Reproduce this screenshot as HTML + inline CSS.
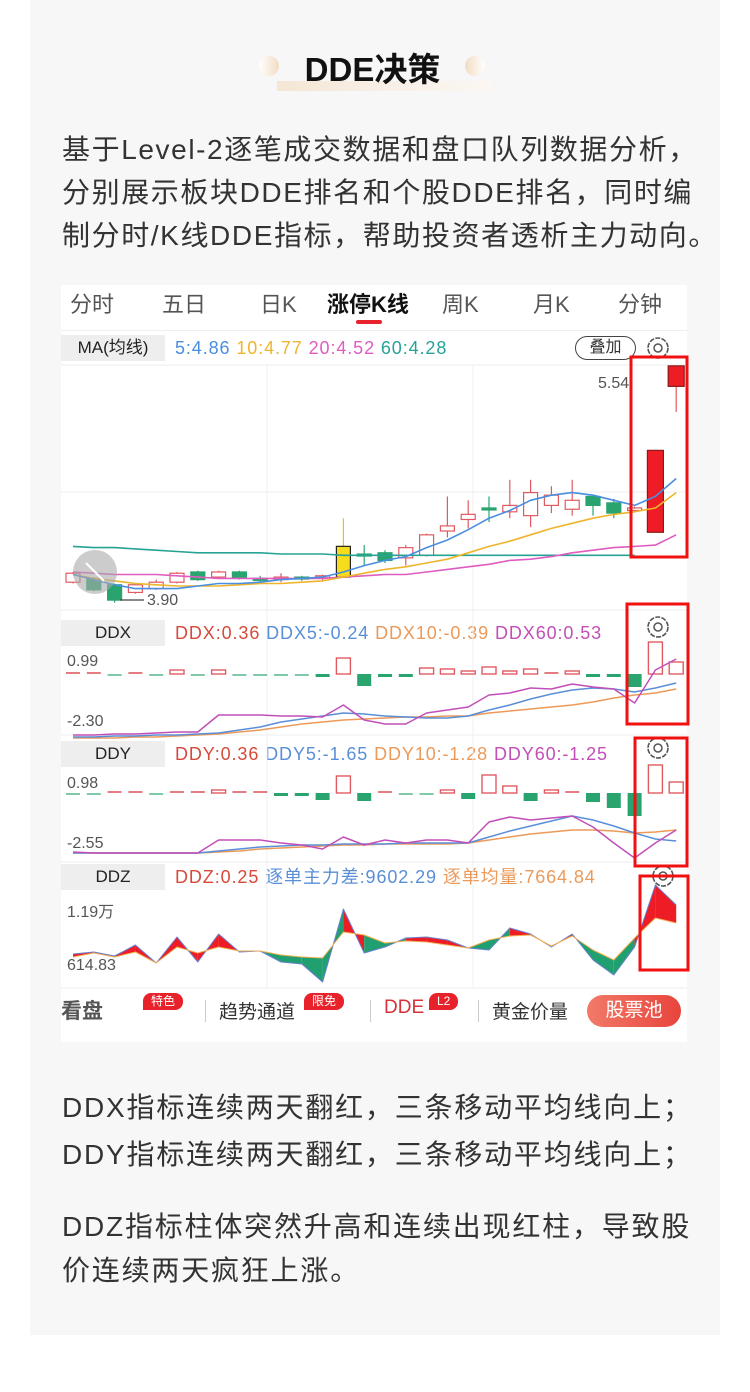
<!DOCTYPE html>
<html><head><meta charset="utf-8">
<style>
*{margin:0;padding:0;box-sizing:border-box}
body{width:750px;height:1392px;background:#fff;position:relative;overflow:hidden;font-family:"Liberation Sans","Noto Sans CJK SC",sans-serif;color:#333}
#panel{position:absolute;left:30px;top:0;width:690px;height:1335px;background:#f7f7f7}
.abs{position:absolute;white-space:nowrap}
.p{font-size:28px;line-height:43px;color:#333;left:62px;letter-spacing:1.6px}
.n{letter-spacing:1.8px}
#chartbg{position:absolute;left:61px;top:285px;width:626px;height:757px;background:#fff}
.tab{position:absolute;top:287px;font-size:22px;color:#555}
.lbl{position:absolute;left:61px;width:104px;height:26px;background:#eee;font-size:17px;line-height:26px;text-align:center;color:#222}
.vals{position:absolute;left:175px;font-size:18px;line-height:26px;letter-spacing:0.9px}
.badge{position:absolute;background:#e8222b;color:#fff;font-size:12px;border-radius:8px 8px 8px 0;padding:0 8px;line-height:17px}
.bb{position:absolute;top:997px;font-size:19px;color:#333}
</style></head><body>
<div id="panel"></div>

<div class="abs" style="left:259px;top:56px;width:20px;height:20px;border-radius:50%;background:linear-gradient(90deg,#fff,#f1dcc2)"></div>
<div class="abs" style="left:465px;top:56px;width:20px;height:20px;border-radius:50%;background:linear-gradient(90deg,#f1dcc2,#fff)"></div>
<div class="abs" style="left:277px;top:81px;width:215px;height:10px;background:linear-gradient(90deg,#f5e6d4,#f8efe6,#fbf7f2)"></div>
<div class="abs" style="left:0;width:745px;top:48px;text-align:center;font-size:33px;font-weight:bold;color:#111;line-height:44px">DDE决策</div>

<div class="abs p" style="top:128px">基于Level-2逐笔成交数据和盘口队列数据分析，</div>
<div class="abs p" style="top:171px">分别展示板块DDE排名和个股DDE排名，同时编</div>
<div class="abs p" style="top:214px">制分时/K线DDE指标，帮助投资者透析主力动向。</div>

<div id="chartbg"></div>
<div class="abs" style="left:61px;top:330px;width:626px;height:1px;background:#eee"></div>
<div class="tab" style="left:70px">分时</div>
<div class="tab" style="left:162px">五日</div>
<div class="tab" style="left:260px">日K</div>
<div class="tab" style="left:327px;color:#111;font-weight:bold">涨停K线</div>
<div class="abs" style="left:356px;top:320px;width:26px;height:4px;background:#e8222b;border-radius:2px"></div>
<div class="tab" style="left:442px">周K</div>
<div class="tab" style="left:533px">月K</div>
<div class="tab" style="left:618px">分钟</div>

<div class="lbl" style="top:335px">MA(均线)</div>
<div class="vals" style="top:335px"><span style="color:#4a8ee0">5:4.86</span> <span style="color:#eeb52c">10:4.77</span> <span style="color:#e05cc0">20:4.52</span> <span style="color:#27a395">60:4.28</span></div>
<div class="abs" style="left:575px;top:336px;width:61px;height:24px;border:1.5px solid #444;border-radius:12px;font-size:16px;line-height:21px;text-align:center;color:#333">叠加</div>

<div class="lbl" style="top:620px">DDX</div>
<div class="vals" style="top:620px"><span style="color:#d64a3a">DDX:0.36</span> <span style="color:#5a8fd8">DDX5:-0.24</span> <span style="color:#eb9a5a">DDX10:-0.39</span> <span style="color:#c24fb8">DDX60:0.53</span></div>
<div class="lbl" style="top:741px">DDY</div>
<div class="vals" style="top:741px"><span style="color:#d64a3a">DDY:0.36</span> <span style="color:#5a8fd8">DDY5:-1.65</span> <span style="color:#eb9a5a">DDY10:-1.28</span> <span style="color:#c24fb8">DDY60:-1.25</span></div>
<div class="lbl" style="top:864px">DDZ</div>
<div class="vals" style="top:864px"><span style="color:#d64a3a">DDZ:0.25</span> <span style="color:#5a8fd8">逐单主力差:9602.29</span> <span style="color:#eb9a5a">逐单均量:7664.84</span></div>

<svg id="chart" class="abs" style="left:0;top:0" width="750" height="1392"></svg>

<div class="abs" style="left:598px;top:375px;font-size:16px;color:#555">5.54</div>
<div class="abs" style="left:147px;top:592px;font-size:16px;color:#555">3.90</div>
<div class="abs" style="left:67px;top:653px;font-size:16px;color:#555">0.99</div>
<div class="abs" style="left:67px;top:713px;font-size:16px;color:#555">-2.30</div>
<div class="abs" style="left:67px;top:775px;font-size:16px;color:#555">0.98</div>
<div class="abs" style="left:67px;top:835px;font-size:16px;color:#555">-2.55</div>
<div class="abs" style="left:67px;top:898px;font-size:16px;color:#555">1.19万</div>
<div class="abs" style="left:67px;top:957px;font-size:16px;color:#555">614.83</div>

<div class="bb" style="left:61px;font-weight:bold;color:#555;font-size:21px;top:995px">看盘</div>
<div class="badge" style="left:143px;top:993px">特色</div>
<div class="abs" style="left:205px;top:1000px;width:1px;height:22px;background:#ccc"></div>
<div class="bb" style="left:219px">趋势通道</div>
<div class="badge" style="left:304px;top:993px">限免</div>
<div class="abs" style="left:370px;top:1000px;width:1px;height:22px;background:#ccc"></div>
<div class="bb" style="left:384px;color:#d9303a">DDE</div>
<div class="badge" style="left:429px;top:993px">L2</div>
<div class="abs" style="left:478px;top:1000px;width:1px;height:22px;background:#ccc"></div>
<div class="bb" style="left:492px">黄金价量</div>
<div class="abs" style="left:587px;top:995px;width:94px;height:32px;border-radius:16px;background:linear-gradient(90deg,#f27a68,#e8443c);color:#fff;font-size:19px;line-height:32px;text-align:center">股票池</div>

<div class="abs p n" style="top:1086px">DDX指标连续两天翻红，三条移动平均线向上；</div>
<div class="abs p n" style="top:1133px">DDY指标连续两天翻红，三条移动平均线向上；</div>
<div class="abs p n" style="top:1205px">DDZ指标柱体突然升高和连续出现红柱，导致股</div>
<div class="abs p n" style="top:1249px">价连续两天疯狂上涨。</div>

<script>
// ---- data ----
const candleOpen  = [4.00,4.03,3.98,3.92,3.95,4.00,4.08,4.04,4.08,4.03,4.02,4.04,4.04,4.04,4.22,4.23,4.19,4.21,4.40,4.49,4.58,4.55,4.52,4.60,4.57,4.67,4.62,4.56,4.39,5.53];
const candleClose = [4.07,3.94,3.86,3.98,4.00,4.07,4.02,4.08,4.03,4.02,4.04,4.03,4.05,4.28,4.21,4.17,4.27,4.37,4.44,4.53,4.57,4.60,4.70,4.68,4.64,4.60,4.54,4.58,5.03,5.69];
const candleHigh  = [4.08,4.04,3.99,3.99,4.02,4.08,4.09,4.09,4.09,4.05,4.07,4.05,4.06,4.50,4.29,4.25,4.29,4.38,4.67,4.64,4.67,4.80,4.80,4.75,4.80,4.68,4.65,4.59,5.03,5.69];
const candleLow   = [3.99,3.93,3.84,3.91,3.94,3.99,4.01,4.03,4.02,4.00,4.00,4.01,4.01,4.04,4.13,4.15,4.13,4.20,4.35,4.42,4.47,4.50,4.43,4.54,4.52,4.52,4.50,4.55,4.39,5.33];
const candleLimitUp = [false,false,false,false,false,false,false,false,false,false,false,false,false,true,false,false,false,false,false,false,false,false,false,false,false,false,false,false,false,false];
const ma5  = [4.06,4.02,3.98,3.95,3.95,3.95,3.97,3.99,3.99,4.00,4.02,4.03,4.04,4.08,4.13,4.17,4.20,4.27,4.33,4.41,4.50,4.56,4.64,4.68,4.70,4.68,4.64,4.60,4.67,4.81];
const ma10 = [4.06,4.03,4.01,3.99,3.98,3.97,3.97,3.97,3.98,3.99,3.99,4.00,4.01,4.04,4.07,4.10,4.12,4.15,4.18,4.23,4.28,4.32,4.37,4.42,4.46,4.50,4.53,4.55,4.58,4.70];
const ma20 = [4.08,4.07,4.06,4.06,4.06,4.05,4.04,4.03,4.03,4.03,4.03,4.03,4.03,4.04,4.05,4.06,4.06,4.08,4.10,4.12,4.14,4.17,4.18,4.20,4.23,4.25,4.27,4.28,4.29,4.37];
const ma60 = [4.28,4.27,4.27,4.26,4.25,4.24,4.23,4.23,4.23,4.23,4.22,4.22,4.22,4.21,4.21,4.21,4.21,4.21,4.21,4.21,4.21,4.21,4.21,4.21,4.21,4.21,4.21,4.21];
const ddxBars = [0.2,0.2,-0.2,0.2,-0.2,0.4,-0.2,0.4,-0.2,-0.2,-0.2,-0.2,-0.3,1.6,-1.2,-0.3,-0.3,0.6,0.5,0.3,0.7,0.3,0.5,0.2,0.3,-0.3,-0.3,-1.3,3.2,1.2];
const ddx5  = [-6.3,-6.3,-6.2,-6.2,-6.1,-6.1,-6.0,-5.9,-5.6,-5.3,-4.8,-4.5,-4.2,-3.9,-4.0,-4.2,-4.3,-4.4,-4.4,-4.2,-3.6,-3.1,-2.5,-2.0,-1.6,-1.4,-1.5,-1.8,-1.4,-0.9];
const ddx10 = [-6.4,-6.4,-6.4,-6.3,-6.3,-6.2,-6.1,-6.0,-5.8,-5.6,-5.3,-5.0,-4.8,-4.6,-4.5,-4.4,-4.3,-4.3,-4.2,-4.2,-3.9,-3.7,-3.5,-3.3,-3.1,-2.8,-2.4,-2.1,-1.9,-1.5];
const ddx60 = [-6.1,-6.1,-6.0,-6.0,-5.9,-5.8,-5.8,-4.1,-4.1,-4.1,-4.2,-4.2,-4.3,-3.1,-4.6,-5.0,-5.0,-3.9,-3.6,-3.3,-2.1,-1.9,-1.4,-1.5,-1.0,-1.3,-1.5,-2.9,0.4,1.5];
const ddyBars = [-0.2,-0.2,0.2,0.2,-0.2,0.2,0.2,0.3,0.2,0.2,-0.3,-0.3,-0.7,1.7,-0.8,0.2,-0.2,-0.2,0.3,-0.6,1.8,0.7,-0.8,0.3,0.2,-0.9,-1.5,-2.3,2.8,1.1];
const ddy5  = [-6.0,-6.0,-6.0,-6.0,-6.0,-6.0,-6.0,-5.8,-5.6,-5.4,-5.3,-5.2,-5.2,-5.1,-5.1,-5.1,-5.0,-5.0,-5.0,-5.0,-4.4,-3.8,-3.3,-2.8,-2.3,-2.7,-3.3,-4.0,-4.6,-4.8];
const ddy10 = [-6.0,-6.0,-6.0,-6.0,-6.0,-6.0,-6.0,-5.9,-5.8,-5.6,-5.5,-5.4,-5.3,-5.2,-5.2,-5.1,-5.1,-5.1,-5.1,-5.0,-4.7,-4.4,-4.1,-3.9,-3.7,-3.7,-3.8,-4.0,-3.9,-3.7];
const ddy60 = [-5.9,-6.0,-6.0,-6.0,-6.0,-6.0,-6.0,-4.7,-4.7,-4.7,-5.0,-5.2,-5.6,-4.4,-5.2,-4.7,-5.0,-4.7,-4.7,-5.0,-2.9,-2.4,-2.7,-2.5,-2.3,-3.4,-5.0,-6.5,-5.0,-3.7];
const ddzMain = [3.6,3.8,3.4,4.5,2.7,5.3,2.8,5.6,3.8,3.9,2.8,2.6,0.8,8.1,3.7,4.3,5.2,5.3,5.0,4.2,4.0,6.2,5.6,4.3,5.6,3.0,1.5,4.3,10.5,8.5];
const ddzAvg  = [3.3,3.7,3.3,3.8,2.7,4.3,3.7,4.3,3.9,3.9,3.5,3.3,3.2,5.8,5.5,4.7,4.9,4.8,4.5,4.2,5.0,5.4,5.5,4.4,5.4,4.0,3.0,5.2,7.2,6.7];

// ---- scales ----
const X0 = 73, DX = 20.8;
const xAt = i => X0 + i*DX;
const yPrice = p => 595 - (p-3.90)*128;
const yDDX = v => 674 - v*10;
const yDDY = v => 793 - v*10;
const yDDZ = v => 990 - v*10;

const NS = 'http://www.w3.org/2000/svg';
const svg = document.getElementById('chart');
function mk(tag, attrs, name, parent){
  const el = document.createElementNS(NS, tag);
  for (const k in attrs) el.setAttribute(k, attrs[k]);
  
  
  (parent||svg).appendChild(el);
  return el;
}
const RED='#e05a62', GREEN='#2aa46e';

[[61,365,687,365],[61,492,687,492],[61,610,687,610],[61,735,687,735],[61,862,687,862],[61,988,687,988]].forEach(l=>{
  mk('line',{x1:l[0],y1:l[1],x2:l[2],y2:l[3],stroke:'#eee','stroke-width':1},'grid-line');
});
[267,473].forEach(x=>{
  mk('line',{x1:x,y1:365,x2:x,y2:988,stroke:'#f0f0f0','stroke-width':1},'grid-line-vertical');
});

[[658,348],[658,627],[658,748],[663,876]].forEach(c=>{
  const g = mk('g',{},'settings-icon');
  
  mk('circle',{cx:c[0],cy:c[1],r:10,fill:'none',stroke:'#555','stroke-width':1.6,'stroke-dasharray':'5 1.3'},'gear-outline',g);
  mk('circle',{cx:c[0],cy:c[1],r:4,fill:'none',stroke:'#555','stroke-width':1.5},'gear-center',g);
});

for (let i=0;i<candleOpen.length;i++){
  const x = xAt(i), up = candleClose[i] >= candleOpen[i];
  const last = i >= 28;
  const col = candleLimitUp[i] ? '#222' : (up ? (last?'#8a1a1a':RED) : GREEN);
  const fill = candleLimitUp[i] ? '#f6dc1a' : (last ? '#ee1c25' : (up ? '#fff' : GREEN));
  const w = last ? 16 : 14;
  mk('line',{x1:x,y1:yPrice(candleHigh[i]),x2:x,y2:yPrice(candleLow[i]),stroke:candleLimitUp[i]?'#e8c21a':(up?RED:GREEN),'stroke-width':1.2},'candle-wick');
  const top = yPrice(Math.max(candleOpen[i],candleClose[i]));
  const bot = yPrice(Math.min(candleOpen[i],candleClose[i]));
  mk('rect',{x:x-w/2,y:top,width:w,height:Math.max(2,bot-top),fill:fill,stroke:col,'stroke-width':1.2},'candle-body');
}
function line(arr, yf, color, name, w){
  const pts = arr.map((v,i)=>xAt(i).toFixed(1)+','+yf(v).toFixed(1)).join(' ');
  mk('polyline',{points:pts,fill:'none',stroke:color,'stroke-width':w||1.6,'stroke-linejoin':'round'},name);
}
line(ma60, yPrice, '#27a395', 'ma60-line');
line(ma20, yPrice, '#e05cc0', 'ma20-line');
line(ma10, yPrice, '#eeb52c', 'ma10-line');
line(ma5, yPrice, '#4a8ee0', 'ma5-line');

mk('line',{x1:120,y1:600,x2:144,y2:600,stroke:'#444','stroke-width':1.2},'min-price-arrow');
mk('circle',{cx:95,cy:572,r:22,fill:'rgba(170,170,170,0.6)'},'expand-icon');
mk('line',{x1:86,y1:563,x2:104,y2:581,stroke:'#fff','stroke-width':2},'expand-icon-arrow');

function bars(arr, yf, name){
  arr.forEach((v,i)=>{
    const x = xAt(i), y0 = yf(0), y1 = yf(v);
    const h = Math.max(2, Math.abs(y1-y0));
    const big = Math.abs(v) >= 0.3;
    if (v >= 0){
      mk('rect',{x:x-7,y:Math.min(y0,y1),width:14,height:h,fill:big?'#fff':RED,stroke:RED,'stroke-width':big?1.4:0,opacity:big?1:0.8},name+'-up');
    } else {
      mk('rect',{x:x-7,y:y0,width:14,height:h,fill:GREEN,opacity:big?1:0.6},name+'-down');
    }
  });
}
bars(ddxBars, yDDX, 'ddx-bar');
line(ddx10, yDDX, '#eb9a5a', 'ddx10-line', 1.5);
line(ddx5, yDDX, '#5a8fd8', 'ddx5-line', 1.5);
line(ddx60, yDDX, '#c24fb8', 'ddx60-line', 1.5);

bars(ddyBars, yDDY, 'ddy-bar');
line(ddy10, yDDY, '#eb9a5a', 'ddy10-line', 1.5);
line(ddy5, yDDY, '#5a8fd8', 'ddy5-line', 1.5);
line(ddy60, yDDY, '#c24fb8', 'ddy60-line', 1.5);

for (let i=0;i<ddzMain.length-1;i++){
  const x1 = xAt(i), x2 = xAt(i+1);
  const above = (ddzMain[i]+ddzMain[i+1]) >= (ddzAvg[i]+ddzAvg[i+1]);
  const pts = [x1+','+yDDZ(ddzMain[i]), x2+','+yDDZ(ddzMain[i+1]), x2+','+yDDZ(ddzAvg[i+1]), x1+','+yDDZ(ddzAvg[i])].join(' ');
  mk('polygon',{points:pts,fill:above?'#ee1c25':'#20a070'},'ddz-area');
}
line(ddzMain, yDDZ, '#6a7fd0', 'ddz-main-line', 1);
line(ddzAvg, yDDZ, '#f0b050', 'ddz-avg-line', 1);

[[631,357,56,200],[627,604,61,120],[635,738,52,128],[640,876,48,94]].forEach(b=>{
  mk('rect',{x:b[0],y:b[1],width:b[2],height:b[3],fill:'none',stroke:'#f01010','stroke-width':3},'highlight-box');
});
</script>
</body></html>
